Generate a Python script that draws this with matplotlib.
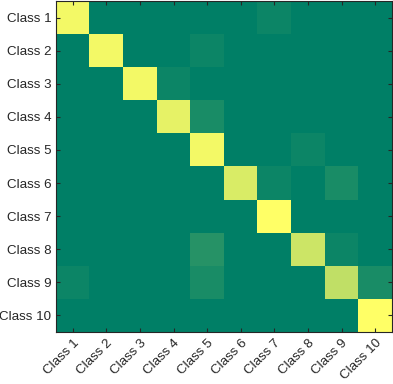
import numpy as np
import matplotlib
matplotlib.use("Agg")
import matplotlib.pyplot as plt

classes = ["Class 1", "Class 2", "Class 3", "Class 4", "Class 5",
           "Class 6", "Class 7", "Class 8", "Class 9", "Class 10"]

# confusion counts (rows: true class, cols: predicted class)
row1 = [19, 0, 0, 0, 0, 0, 1, 0, 0, 0]
row2 = [0, 19, 0, 0, 1, 0, 0, 0, 0, 0]
row3 = [0, 0, 19, 1, 0, 0, 0, 0, 0, 0]
row4 = [0, 0, 0, 18, 2, 0, 0, 0, 0, 0]
row5 = [0, 0, 0, 0, 19, 0, 0, 1, 0, 0]
row6 = [0, 0, 0, 0, 0, 17, 1, 0, 2, 0]
row7 = [0, 0, 0, 0, 0, 0, 20, 0, 0, 0]
row8 = [0, 0, 0, 0, 3, 0, 0, 16, 1, 0]
row9 = [1, 0, 0, 0, 2, 0, 0, 0, 15, 2]
row10 = [0, 0, 0, 0, 0, 0, 0, 0, 0, 20]

cm = np.array([row1, row2, row3, row4, row5, row6, row7, row8, row9, row10])

plt.rcParams['font.family'] = ['Liberation Sans', 'DejaVu Sans']

fig = plt.figure(figsize=(3.93, 3.84), dpi=100)
ax = fig.add_axes([56/393, 1 - 332/384, 336/393, 331/384])
ax.imshow(cm, cmap='summer', aspect='auto', interpolation='nearest', vmin=0, vmax=cm.max())

ax.set_xticks(range(len(classes)))
ax.set_yticks(range(len(classes)))
ax.set_xticklabels(classes, rotation=45, ha='right', rotation_mode='anchor')
ax.set_yticklabels(classes)
ax.tick_params(direction='in', length=3, width=0.8, top=True, right=True,
               labelsize=9.6, colors='#262626', labelcolor='#262626', pad=3.5)
for s in ax.spines.values():
    s.set_color('#262626')
    s.set_linewidth(0.8)

fig.savefig("out.png", dpi=100)
